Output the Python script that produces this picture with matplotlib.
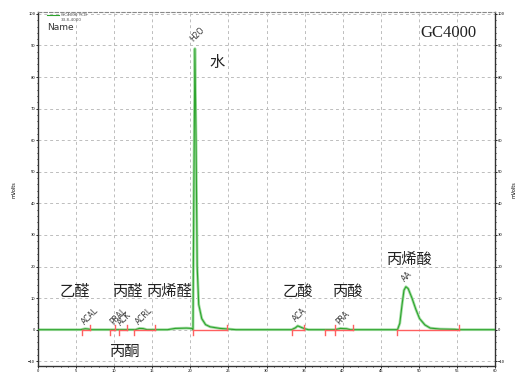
import numpy as np
import matplotlib.pyplot as plt

plt.rcParams['font.family'] = ['Noto Sans CJK SC', 'DejaVu Sans']

# Chromatogram trace (minutes, mVolts)
trace_t = [0, 5.6, 6.2, 6.6, 7.0, 12.8, 13.3, 13.8, 14.3, 17.0, 18.0, 19.5, 20.2,
           20.35, 20.45, 20.6, 20.75, 20.9, 21.1, 21.5, 22.0, 22.6, 23.9, 25.0, 26.0,
           33.3, 33.8, 34.1, 34.5, 35.0, 35.5, 39.0, 39.7, 40.5, 41.0,
           47.2, 47.5, 47.8, 48.05, 48.3, 48.6, 49.1, 49.6, 50.1, 50.8, 51.5, 52.8,
           54.7, 55.3, 60]
trace_v = [0, 0, 0.3, 0.2, 0, 0, 0.4, 0.35, 0, 0, 0.4, 0.5, 0.4,
           0, 40, 89, 60, 20, 8, 3.5, 1.6, 0.9, 0.4, 0.2, 0,
           0, 0.6, 1.2, 0.8, 0.3, 0, 0, 0.4, 0.3, 0,
           0, 2, 8, 12.5, 13.6, 13, 10, 6.5, 3.5, 1.5, 0.5, 0.2,
           0.1, 0, 0]

# Integration baselines (start, end) in minutes
seg_start = [5.74, 9.45, 10.63, 12.6, 20.35, 33.35, 37.68, 38.99, 47.13]
seg_end = [6.83, 10.1, 11.68, 15.36, 24.81, 34.92, 38.99, 41.35, 55.27]

# Peak names
peak_names = ['ACAL', 'PRAL', 'ACK', 'ACRL', 'H2O', 'ACA', 'PRA', 'AA']
peak_t = [6.3, 10.0, 11.1, 13.4, 20.6, 34.1, 39.8, 48.3]
peak_v = [1.0, 1.0, 0.6, 1.0, 90.5, 2.0, 1.0, 14.5]

# Chinese compound labels
cn_labels = ['乙醛', '丙醛', '丙烯醛', '丙酮', '水', '乙酸', '丙酸', '丙烯酸']
cn_t = [4.9, 11.8, 17.3, 11.4, 23.5, 34.1, 40.7, 48.8]
cn_v = [12.0, 12.0, 12.0, -7.0, 84.5, 12.0, 12.0, 22.4]

fig = plt.figure(figsize=(5.21, 3.73), dpi=100)
ax = fig.add_axes([38/521, 1 - 366/373, (495-38)/521, (366-12)/373])

ax.plot(trace_t, trace_v, color='#a3dca3', lw=2.0, zorder=2)
ax.plot(trace_t, trace_v, color='#2ea52e', lw=0.8, zorder=3)

for s, e in zip(seg_start, seg_end):
    ax.plot([s, e], [0, 0], color='#ff6060', lw=1, zorder=4)
    ax.plot([s, s], [0, -1.6], color='#ff6060', lw=1, zorder=4)
    ax.plot([e, e], [0, 1.6], color='#ff6060', lw=1, zorder=4)

for name, t, v in zip(peak_names, peak_t, peak_v):
    ax.text(t, v, name, fontsize=5.5, rotation=45, rotation_mode='anchor',
            ha='left', va='bottom', color='#333333', family='DejaVu Sans')

for lab, t, v in zip(cn_labels, cn_t, cn_v):
    ax.text(t, v, lab, fontsize=11, ha='center', va='center', color='#222222')

ax.text(0.96, 0.94, 'GC4000', transform=ax.transAxes, fontsize=12,
        family='Liberation Serif', ha='right', va='center', color='#222222')

# legend-like header
ax.plot([0.02, 0.045], [0.992, 0.992], transform=ax.transAxes, color='#2ea52e', lw=0.8)
ax.text(0.05, 0.992, 'GC4000 TCD', transform=ax.transAxes, fontsize=3,
        va='center', color='#555555', family='DejaVu Sans')
ax.text(0.05, 0.978, '33.8-4000', transform=ax.transAxes, fontsize=3,
        va='center', color='#555555', family='DejaVu Sans')
ax.text(0.02, 0.955, 'Name', transform=ax.transAxes, fontsize=6.5,
        va='center', color='#333333', family='DejaVu Sans')

ax.set_xlim(0, 60)
ax.set_ylim(-11.5, 100.6)
ax.set_xticks(np.arange(0, 61, 5))
ax.set_xticks(np.arange(0, 61, 1), minor=True)
ax.set_yticks(np.arange(-10, 101, 10))
ax.set_yticks(np.arange(-10, 101, 2), minor=True)
ax.grid(True, which='major', color='#bdbdbd', linestyle=(0, (3, 3)), lw=0.7)
ax.tick_params(which='both', direction='out', labelsize=3, length=1.5, width=0.6,
               right=True, labelright=True, pad=0.5)
ax.tick_params(which='minor', length=1.0)
for side in ['left', 'right', 'bottom']:
    ax.spines[side].set_linewidth(1.0)
    ax.spines[side].set_color('#333333')
ax.spines['top'].set_color('#888888')
ax.spines['top'].set_linestyle((0, (3, 2)))

fig.text(14/521, 1 - 190/373, 'mVolts', rotation=90, fontsize=3.5,
         ha='center', va='center', family='DejaVu Sans')
fig.text(514/521, 1 - 190/373, 'mVolts', rotation=90, fontsize=3.5,
         ha='center', va='center', family='DejaVu Sans')

fig.savefig('out.png', dpi=100)
